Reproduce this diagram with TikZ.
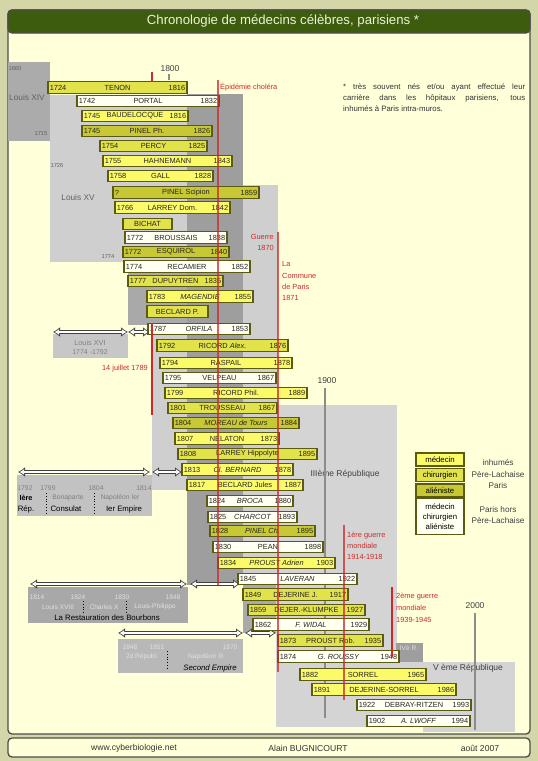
\documentclass[tikz,border=0pt]{standalone}
\usepackage{fontspec}
\setmainfont{Liberation Sans}
\usetikzlibrary{arrows.meta}
\definecolor{outerbg}{HTML}{D5D6A8}
\definecolor{panel}{HTML}{FFFFDA}
\definecolor{titlegreen}{HTML}{3E5C0E}
\definecolor{titletext}{HTML}{EEF2D4}
\definecolor{medc}{HTML}{FBFB6A}
\definecolor{chirc}{HTML}{E2E24A}
\definecolor{alienc}{HTML}{C8C834}
\definecolor{whitec}{HTML}{FFFFF2}
\definecolor{barline}{HTML}{5A5A10}
\definecolor{redl}{HTML}{CC2A2A}
\definecolor{gA}{HTML}{ABABAB}
\definecolor{gB}{HTML}{CFCFCF}
\definecolor{gC}{HTML}{A9A9A9}
\definecolor{gD}{HTML}{9E9E9E}
\definecolor{gE}{HTML}{D4D4D4}
\newcommand\mbar[8]{%
 \node[barbox,#5,minimum width={(#3-#2)*1pt},anchor=west] (#1) at (#2,#4) {};
 \node[bartext,anchor=west] (#1s) at (#1.west) {#6};
 \node[bartext] (#1n) at (#1.center) {#7};
 \node[bartext,anchor=east] (#1e) at (#1.east) {#8};}
\tikzset{
 barbox/.style={draw=barline, line width=1.1pt, minimum height=11.5pt, inner sep=0pt, outer sep=0pt},
 bartext/.style={font=\fontsize{7.4}{8}\selectfont, text=black!85, inner sep=1.6pt},
 med/.style={fill=medc}, chir/.style={fill=chirc}, alien/.style={fill=alienc}, wbar/.style={fill=whitec},
 redtext/.style={font=\fontsize{7.4}{8}\selectfont, text=redl, inner sep=0pt},
 redline/.style={draw=redl, line width=1.1pt},
 grayline/.style={draw=black!45, line width=1.1pt},
 yeartext/.style={font=\fontsize{8.5}{9}\selectfont, text=black!75, inner sep=0pt},
 eratext/.style={font=\fontsize{8.3}{9}\selectfont, text=black!62, inner sep=0pt},
 smallyear/.style={font=\fontsize{5.8}{6}\selectfont, text=black!62, inner sep=0pt},
 boxtext/.style={font=\fontsize{6.8}{7}\selectfont, text=black!50, inner sep=0pt},
 boxlight/.style={font=\fontsize{6.6}{7}\selectfont, text=black!12, inner sep=0pt},
 boxdark/.style={font=\fontsize{7.8}{8}\selectfont, text=black, inner sep=0pt},
 sep/.style={draw=black, line width=0.8pt, dotted},
 arrowout/.style={draw=black!75, line width=3.4pt, {Latex[length=7pt,width=10pt]}-{Latex[length=7pt,width=10pt]}},
 arrowin/.style={draw=white, line width=1.6pt, {Latex[length=4.6pt,width=6pt]}-{Latex[length=4.6pt,width=6pt]}, shorten <=1.6pt, shorten >=1.6pt},
 legbox/.style={draw=barline, line width=1.1pt, minimum width=48pt, minimum height=13pt, inner sep=1pt, font=\fontsize{7.8}{10}\selectfont, align=center},
 legtext/.style={font=\fontsize{8.2}{9}\selectfont, text=black!75, inner sep=0pt},
 foot/.style={font=\fontsize{8.6}{9}\selectfont, text=black!80, inner sep=0pt},
 note/.style={font=\fontsize{7.8}{8}\selectfont, text=black!80, inner sep=0pt, anchor=west}
}
\begin{document}
\begin{tikzpicture}[x=1pt,y=-1pt]
\useasboundingbox (0,0) rectangle (538,761);
\fill[outerbg] (0,0) rectangle (538,761);
% main panel
\filldraw[fill=panel, draw=black!70, line width=1.3pt, rounded corners=4pt] (8,10) rectangle (530,734);
\filldraw[fill=titlegreen, draw=black!70, line width=1.3pt, rounded corners=4pt] (8,10) rectangle (530,33);
\node[font=\fontsize{13.2}{14}\selectfont, text=titletext] (title) at (283,21.5) {Chronologie de médecins célèbres, parisiens *};
\filldraw[fill=panel, draw=black!70, line width=1.3pt, rounded corners=4pt] (8,738) rectangle (530,757);
\node[foot] (web) at (134,748) {www.cyberbiologie.net};
\node[foot] (auth) at (308,748) {Alain BUGNICOURT};
\node[foot] (date) at (480,748) {août 2007};
% era backgrounds
\fill[gA] (8,62) rectangle (50,141);
\fill[gB] (50,95) rectangle (187,262);
\fill[gC] (128,262) rectangle (187,325);
\fill[gB] (152,325) rectangle (187,490);
\fill[gD] (187,94) rectangle (243,585);
\fill[gB] (243,185) rectangle (278,585);
\fill[gC] (243,585) rectangle (276,633);
\fill[gE] (276,405) rectangle (397,727);
\fill[gE] (396,662) rectangle (423,727);
\fill[gD] (396,643) rectangle (423,662);
\fill[gE] (423,662) rectangle (515,732);
% era labels
\node[smallyear] (l1660) at (15,68) {1660};
\node[eratext] (lxiv) at (27,98) {Louis XIV};
\node[smallyear] (l1715) at (41,134) {1715};
\node[smallyear] (l1726) at (57,165) {1726};
\node[eratext] (lxv) at (78,198) {Louis XV};
\node[smallyear] (l1774) at (108,256) {1774};
\node[eratext, font=\fontsize{8.5}{9}\selectfont, text=black!75] (r3) at (345,474) {IIIème République};
\node[boxlight] (r4) at (409,648) {IVè R.};
\node[eratext, font=\fontsize{8.5}{9}\selectfont, text=black!75] (r5) at (468,668) {V ème République};
% time scale
\node[yeartext] (y1800) at (170,69) {1800};
\node[yeartext] (y1900) at (327,381) {1900};
\node[yeartext] (y2000) at (475,606) {2000};
\coordinate (t1a) at (169,74); \coordinate (t1b) at (169,80);
\coordinate (t9a) at (325,388); \coordinate (t9b) at (325,718);
\coordinate (t2a) at (475,613); \coordinate (t2b) at (475,730);
\draw[grayline] (t1a) -- (t1b);
\draw[grayline] (t9a) -- (t9b);
\draw[grayline] (t2a) -- (t2b);
% Louis XVI box
\fill[black!22] (53,334) rectangle (128,358);
\node[boxtext, font=\fontsize{7.3}{8}\selectfont] (l16a) at (90,343) {Louis XVI};
\node[boxtext, font=\fontsize{7}{8}\selectfont] (l16b) at (90,352) {1774 -1792};
% Empire box
\fill[black!24] (17,475) rectangle (152,516);
\node[boxtext] (e1) at (25,488) {1792};
\node[boxtext] (e2) at (48,488) {1799};
\node[boxtext] (e3) at (96,488) {1804};
\node[boxtext] (e4) at (144,488) {1814};
\node[boxdark, font=\bfseries\fontsize{7.3}{8}\selectfont] (e5) at (26,498) {Ière};
\node[boxdark] (e6) at (26,509) {Rép.};
\node[boxtext] (e7) at (68,498) {Bonaparte};
\node[boxdark] (e8) at (66,509) {Consulat};
\node[boxtext] (e9) at (120,498) {Napoléon Ier};
\node[boxdark] (e10) at (124,509) {Ier Empire};
\coordinate (s1a) at (46,493); \coordinate (s1b) at (46,513);
\coordinate (s2a) at (94,493); \coordinate (s2b) at (94,513);
\draw[sep] (s1a) -- (s1b); \draw[sep] (s2a) -- (s2b);
% Restoration box
\fill[black!34] (28,587) rectangle (188,623);
\node[boxlight] (r1) at (37,597) {1814};
\node[boxlight] (r2) at (78,597) {1824};
\node[boxlight] (r3b) at (122,597) {1830};
\node[boxlight] (r4b) at (173,597) {1848};
\node[boxlight] (r5b) at (58,607) {Louis XVIII};
\node[boxlight] (r6) at (104,607) {Charles X};
\node[boxlight] (r7) at (155,607) {Louis-Philippe};
\node[boxdark] (r8) at (107,618) {La Restauration des Bourbons};
\coordinate (s3a) at (83,601); \coordinate (s3b) at (83,613);
\coordinate (s4a) at (126,601); \coordinate (s4b) at (126,613);
\draw[sep] (s3a) -- (s3b); \draw[sep] (s4a) -- (s4b);
% Second Empire box
\fill[black!28] (118,639) rectangle (243,673);
\node[boxlight] (se1) at (130,647) {1848};
\node[boxlight] (se2) at (157,647) {1851};
\node[boxlight] (se3) at (230,647) {1870};
\node[boxlight] (se4) at (142,657) {2d Républ.};
\node[boxlight] (se5) at (206,657) {Napoléon III};
\node[boxdark, font=\itshape\fontsize{7.8}{8}\selectfont] (se6) at (210,668) {Second Empire};
\coordinate (s5a) at (167,651); \coordinate (s5b) at (167,670);
\draw[sep] (s5a) -- (s5b);
% arrows
\coordinate (a1) at (53,332); \coordinate (a2) at (128,332); \coordinate (a3) at (150,332);
\coordinate (b1) at (18,472); \coordinate (b2) at (150,472); \coordinate (b3) at (152,472); \coordinate (b4) at (182,472);
\coordinate (c1) at (30,584); \coordinate (c2) at (187,584); \coordinate (c3) at (190,584); \coordinate (c4) at (240,584);
\coordinate (d1) at (118,633); \coordinate (d2) at (243,633); \coordinate (d3) at (245,633); \coordinate (d4) at (276,633);
\foreach \p/\q in {a1/a2,a2/a3,b1/b2,b3/b4,c1/c2,c3/c4,d1/d2,d3/d4}{
 \draw[arrowout] (\p) -- (\q);
 \draw[arrowin] (\p) -- (\q);}
% bars
\mbar{b01}{48}{187}{87.5}{chir}{1724}{TENON}{1816}
\mbar{b02}{77}{219}{101}{wbar}{1742}{PORTAL}{1832}
\mbar{b03}{82}{188}{116}{med}{1745}{BAUDELOCQUE}{1816}
\mbar{b04}{82}{212}{131}{alien}{1745}{PINEL Ph.}{1826}
\mbar{b05}{100}{207}{146}{chir}{1754}{PERCY}{1825}
\mbar{b06}{103}{232}{161}{med}{1755}{HAHNEMANN}{1843}
\mbar{b07}{108}{213}{176}{med}{1758}{GALL}{1828}
\mbar{b08}{113}{259}{192.5}{alien}{?}{PINEL Scipion}{1859}
\mbar{b09}{115}{230}{207.5}{med}{1766}{LARREY Dom.}{1842}
\mbar{b10}{123}{172}{224}{chir}{}{BICHAT}{}
\mbar{b11}{125}{227}{237.5}{wbar}{1772}{BROUSSAIS}{1838}
\mbar{b12}{123}{229}{252}{alien}{1772}{ESQUIROL}{1840}
\mbar{b13}{124}{250}{266.5}{wbar}{1774}{RECAMIER}{1852}
\mbar{b14}{128}{223}{281}{chir}{1777}{DUPUYTREN}{1835}
\mbar{b15}{147}{253}{296.5}{med}{1783}{\itshape MAGENDIE}{1855}
\mbar{b16}{147}{208}{311.5}{chir}{}{BECLARD P.}{}
\mbar{b17}{148}{250}{329}{wbar}{1787}{\itshape ORFILA}{1853}
\mbar{b18}{157}{288}{345.5}{chir}{1792}{RICORD \itshape Alex.}{1876}
\mbar{b19}{160}{292}{363}{med}{1794}{RASPAIL}{1878}
\mbar{b20}{163}{276}{378}{wbar}{1795}{VELPEAU}{1867}
\mbar{b21}{165}{307}{393}{med}{1799}{RICORD Phil.}{1889}
\mbar{b22}{168}{277}{408}{chir}{1801}{TROUSSEAU}{1867}
\mbar{b23}{173}{299}{423}{alien}{1804}{\itshape MOREAU de Tours}{1884}
\mbar{b24}{175}{279}{438.5}{med}{1807}{NELATON}{1873}
\mbar{b25}{178}{317}{454}{chir}{1808}{LARREY Hippolyte}{1895}
\mbar{b26}{182}{293}{469.5}{med}{1813}{\itshape Cl. BERNARD}{1878}
\mbar{b27}{187}{303}{485}{med}{1817}{BECLARD Jules}{1887}
\mbar{b28}{207}{293}{501}{wbar}{1824}{\itshape BROCA}{1880}
\mbar{b29}{208}{297}{517}{wbar}{1825}{\itshape CHARCOT}{1893}
\mbar{b30}{210}{315}{531}{alien}{1828}{\itshape PINEL Ch.}{1895}
\mbar{b31}{213}{323}{547}{wbar}{1830}{PEAN}{1898}
\mbar{b32}{218}{335}{563}{med}{1834}{\itshape PROUST Adrien}{1903}
\mbar{b33}{238}{357}{579}{wbar}{1845}{\itshape LAVERAN}{1922}
\mbar{b34}{243}{348}{594.5}{chir}{1849}{DEJERINE J.}{1917}
\mbar{b35}{248}{365}{610}{chir}{1859}{DEJER.-KLUMPKE}{1927}
\mbar{b36}{253}{369}{624.5}{wbar}{1862}{\itshape F. WIDAL}{1929}
\mbar{b37}{278}{383}{640.5}{chir}{1873}{PROUST Rob.}{1935}
\mbar{b38}{278}{399}{656.5}{wbar}{1874}{\itshape G. ROUSSY}{1948}
\mbar{b39}{300}{426}{674.5}{med}{1882}{SORREL}{1965}
\mbar{b40}{312}{456}{689.5}{med}{1891}{DEJERINE-SORREL}{1986}
\mbar{b41}{357}{471}{705}{wbar}{1922}{DEBRAY-RITZEN}{1993}
\mbar{b42}{367}{470}{721}{wbar}{1902}{\itshape A. LWOFF}{1994}
% red event lines (drawn over the bars)
\coordinate (e89a) at (152,72); \coordinate (e89b) at (152,82);
\coordinate (e89c) at (152,323); \coordinate (e89d) at (152,415);
\coordinate (e32a) at (218,80); \coordinate (e32b) at (218,585);
\coordinate (e70a) at (278,232); \coordinate (e70b) at (278,672);
\coordinate (e14a) at (344,525); \coordinate (e14b) at (344,700);
\coordinate (e39a) at (392,587); \coordinate (e39b) at (392,657);
\draw[redline] (e89a) -- (e89b);
\draw[redline] (e89c) -- (e89d);
\draw[redline, opacity=0.75] (e32a) -- (e32b);
\draw[redline, opacity=0.75] (e70a) -- (e70b);
\draw[redline, opacity=0.75] (e14a) -- (e14b);
\draw[redline] (e39a) -- (e39b);
\node[redtext, anchor=west] (chol) at (220,87) {Épidémie choléra};
\node[redtext, anchor=east] (g70a) at (274,237) {Guerre};
\node[redtext, anchor=east] (g70b) at (274,248) {1870};
\node[redtext, anchor=west] (c71a) at (282,264) {La};
\node[redtext, anchor=west] (c71b) at (282,276) {Commune};
\node[redtext, anchor=west] (c71c) at (282,287) {de Paris};
\node[redtext, anchor=west] (c71d) at (282,298) {1871};
\node[redtext, anchor=east] (j89) at (148,369) {14 juillet 1789};
\node[redtext, anchor=west] (w1a) at (347,536) {1ère guerre};
\node[redtext, anchor=west] (w1b) at (347,546) {mondiale};
\node[redtext, anchor=west] (w1c) at (347,557) {1914-1918};
\node[redtext, anchor=west] (w2a) at (396,597) {2ème guerre};
\node[redtext, anchor=west] (w2b) at (396,608) {mondiale};
\node[redtext, anchor=west] (w2c) at (396,620) {1939-1945};
% note
\node[note] (n1) at (343,87) {\makebox[182pt][s]{* très souvent nés et/ou ayant effectué leur}};
\node[note] (n2) at (343,98) {\makebox[182pt][s]{carrière dans les hôpitaux parisiens, tous}};
\node[note] (n3) at (343,109) {inhumés à Paris intra-muros.};
% legend
\node[legbox, fill=medc] (lg1) at (440,459.5) {médecin};
\node[legbox, fill=chirc] (lg2) at (440,475) {chirurgien};
\node[legbox, fill=alienc] (lg3) at (440,490.5) {aliéniste};
\node[legbox, fill=whitec, minimum height=36pt] (lg4) at (440,516.5) {médecin\\chirurgien\\aliéniste};
\node[legtext] (lt1) at (498,463) {inhumés};
\node[legtext] (lt2) at (498,475) {Père-Lachaise};
\node[legtext] (lt3) at (498,486) {Paris};
\node[legtext] (lt4) at (498,510) {Paris hors};
\node[legtext] (lt5) at (498,521) {Père-Lachaise};
\end{tikzpicture}
\end{document}
